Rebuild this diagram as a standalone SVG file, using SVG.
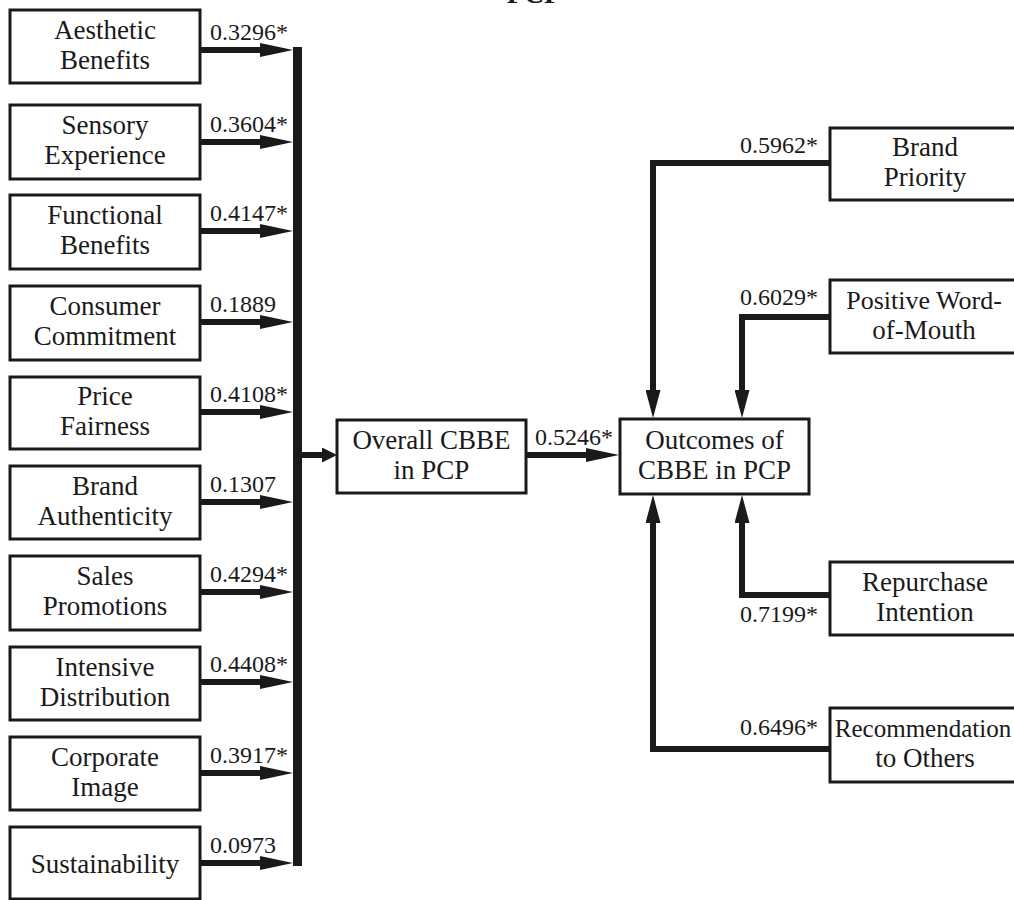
<svg xmlns="http://www.w3.org/2000/svg" width="1014" height="900" viewBox="0 0 1014 900">
<style>
.box{fill:#fff;stroke:#1a1a1a;stroke-width:3}
.t{font-family:"Liberation Serif","DejaVu Serif",serif;font-size:27px;fill:#1a1a1a;text-anchor:middle}
.n{font-family:"Liberation Serif","DejaVu Serif",serif;font-size:24px;fill:#1a1a1a}
.e{text-anchor:end}
.c{fill:none;stroke:#1a1a1a;stroke-width:6}
.bar{fill:none;stroke:#1a1a1a;stroke-width:9}
</style>
<defs>
<marker id="aL" markerUnits="userSpaceOnUse" markerWidth="33" markerHeight="14" refX="0" refY="7" orient="auto"><path d="M0,0 L33,7 L0,14 z" fill="#1a1a1a"/></marker>
<marker id="aV" markerUnits="userSpaceOnUse" markerWidth="28" markerHeight="15" refX="0" refY="7.5" orient="auto"><path d="M0,0 L28,7.5 L0,15 z" fill="#1a1a1a"/></marker>
<marker id="aS" markerUnits="userSpaceOnUse" markerWidth="15" markerHeight="15" refX="0" refY="7.5" orient="auto"><path d="M0,0 L15,7.5 L0,15 z" fill="#1a1a1a"/></marker>
</defs>
<rect width="1014" height="900" fill="#fff"/>
<text x="534" y="3" font-family="Liberation Serif, serif" font-size="28" font-weight="bold" text-anchor="middle" fill="#1a1a1a">PCP</text>

<g id="connectors">
<path class="bar" d="M297.5,47 V866"/>
<path class="c" d="M200,50 H260" marker-end="url(#aL)"/>
<path class="c" d="M200,142 H260" marker-end="url(#aL)"/>
<path class="c" d="M200,231 H260" marker-end="url(#aL)"/>
<path class="c" d="M200,322 H260" marker-end="url(#aL)"/>
<path class="c" d="M200,412 H260" marker-end="url(#aL)"/>
<path class="c" d="M200,502 H260" marker-end="url(#aL)"/>
<path class="c" d="M200,592 H260" marker-end="url(#aL)"/>
<path class="c" d="M200,682 H260" marker-end="url(#aL)"/>
<path class="c" d="M200,773 H260" marker-end="url(#aL)"/>
<path class="c" d="M200,863 H260" marker-end="url(#aL)"/>
<path class="c" d="M300,455 H322" marker-end="url(#aS)"/>
<path class="c" d="M526,455 H586" marker-end="url(#aL)"/>
<path class="c" d="M830,163 H653 V390" marker-end="url(#aV)"/>
<path class="c" d="M830,317 H742 V390" marker-end="url(#aV)"/>
<path class="c" d="M830,595 H742 V523" marker-end="url(#aV)"/>
<path class="c" d="M830,749 H653 V523" marker-end="url(#aV)"/>
<text class="n" x="210" y="40">0.3296*</text>
<text class="n" x="210" y="132">0.3604*</text>
<text class="n" x="210" y="221">0.4147*</text>
<text class="n" x="210" y="312">0.1889</text>
<text class="n" x="210" y="402">0.4108*</text>
<text class="n" x="210" y="492">0.1307</text>
<text class="n" x="210" y="582">0.4294*</text>
<text class="n" x="210" y="672">0.4408*</text>
<text class="n" x="210" y="763">0.3917*</text>
<text class="n" x="210" y="853">0.0973</text>
<text class="n" x="535" y="445">0.5246*</text>
<text class="n e" x="818" y="153">0.5962*</text>
<text class="n e" x="818" y="305">0.6029*</text>
<text class="n e" x="818" y="622">0.7199*</text>
<text class="n e" x="818" y="735">0.6496*</text>
</g>

<g id="aesthetic"><rect class="box" x="10" y="10" width="190" height="73"/><text class="t" x="105" y="38.5">Aesthetic</text><text class="t" x="105" y="68.5">Benefits</text></g>
<g id="sensory"><rect class="box" x="10" y="105" width="190" height="74"/><text class="t" x="105" y="134">Sensory</text><text class="t" x="105" y="164">Experience</text></g>
<g id="functional"><rect class="box" x="10" y="195" width="190" height="74"/><text class="t" x="105" y="224">Functional</text><text class="t" x="105" y="254">Benefits</text></g>
<g id="commitment"><rect class="box" x="10" y="286" width="190" height="74"/><text class="t" x="105" y="315">Consumer</text><text class="t" x="105" y="345">Commitment</text></g>
<g id="price"><rect class="box" x="10" y="377" width="190" height="72"/><text class="t" x="105" y="405">Price</text><text class="t" x="105" y="435">Fairness</text></g>
<g id="authenticity"><rect class="box" x="10" y="466" width="190" height="73"/><text class="t" x="105" y="494.5">Brand</text><text class="t" x="105" y="524.5">Authenticity</text></g>
<g id="sales"><rect class="box" x="10" y="556" width="190" height="74"/><text class="t" x="105" y="585">Sales</text><text class="t" x="105" y="615">Promotions</text></g>
<g id="distribution"><rect class="box" x="10" y="647" width="190" height="73"/><text class="t" x="105" y="675.5">Intensive</text><text class="t" x="105" y="705.5">Distribution</text></g>
<g id="corporate"><rect class="box" x="10" y="737" width="190" height="73"/><text class="t" x="105" y="765.5">Corporate</text><text class="t" x="105" y="795.5">Image</text></g>
<g id="sustainability"><rect class="box" x="10" y="827" width="190" height="72"/><text class="t" x="105" y="873">Sustainability</text></g>

<g id="overall"><rect class="box" x="337" y="420" width="189" height="73"/><text class="t" x="431.5" y="449">Overall CBBE</text><text class="t" x="431.5" y="479">in PCP</text></g>
<g id="outcomes"><rect class="box" x="620" y="419" width="189" height="75"/><text class="t" x="714.5" y="448.5">Outcomes of</text><text class="t" x="714.5" y="478.5">CBBE in PCP</text></g>

<g id="priority"><rect class="box" x="830" y="128" width="190" height="72"/><text class="t" x="925" y="156">Brand</text><text class="t" x="925" y="186">Priority</text></g>
<g id="wom"><rect class="box" x="830" y="280" width="190" height="73"/><text class="t" x="924" y="308.5" style="font-size:26px">Positive Word-</text><text class="t" x="924" y="338.5">of-Mouth</text></g>
<g id="repurchase"><rect class="box" x="830" y="562" width="190" height="73"/><text class="t" x="925" y="590.5">Repurchase</text><text class="t" x="925" y="620.5">Intention</text></g>
<g id="recommendation"><rect class="box" x="830" y="708" width="190" height="74"/><text class="t" x="923" y="737" style="font-size:25px">Recommendation</text><text class="t" x="925" y="767">to Others</text></g>
</svg>
